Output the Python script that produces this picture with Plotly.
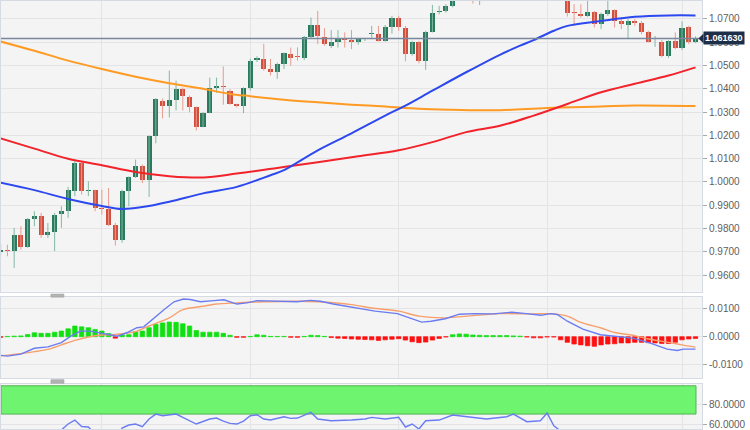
import plotly.graph_objects as go

# ---------------- data (EUR/USD daily) ----------------
opens = [0.9700, 0.9708, 0.9703, 0.9771, 0.9721, 0.9841, 0.9853, 0.9774, 0.9786, 0.9864,
         0.9874, 0.9960, 1.0081, 0.9962, 0.9964, 0.9887, 0.9884, 0.9817, 0.9749, 0.9963,
         1.0020, 1.0068, 1.0010, 1.0196, 1.0346, 1.0328, 1.0354, 1.0397, 1.0363, 1.0320,
         1.0238, 1.0298, 1.0405, 1.0412, 1.0392, 1.0333, 1.0324, 1.0405, 1.0524, 1.0530,
         1.0486, 1.0470, 1.0507, 1.0549, 1.0542, 1.0532, 1.0623, 1.0674, 1.0623, 1.0585,
         1.0603, 1.0613, 1.0609, 1.0599, 1.0608, 1.0634, 1.0637, 1.0606, 1.0666, 1.0706,
         1.0663, 1.0549, 1.0599, 1.0518, 1.0644, 1.0730, 1.0734, 1.0756, 1.0851, 1.0830,
         1.0820, 1.0790, 1.0795, 1.0830, 1.0855, 1.0870, 1.0885, 1.0915, 1.0890, 1.0870,
         1.0848, 1.0862, 1.0990, 1.0910, 1.0790, 1.0729, 1.0723, 1.0713, 1.0730, 1.0677,
         1.0723, 1.0737, 1.0689, 1.0674, 1.0691, 1.0684, 1.0642, 1.0599, 1.0603, 1.0542,
         1.0606, 1.0577, 1.0666, 1.0603]
highs = [0.9735, 0.9731, 0.9803, 0.9810, 0.9846, 0.9874, 0.9867, 0.9824, 0.9867, 0.9896,
         0.9979, 1.0096, 1.0089, 1.0003, 0.9967, 0.9967, 0.9974, 0.9824, 0.9967, 1.0024,
         1.0096, 1.0075, 1.0200, 1.0360, 1.0358, 1.0478, 1.0435, 1.0405, 1.0371, 1.0324,
         1.0301, 1.0448, 1.0448, 1.0496, 1.0399, 1.0336, 1.0406, 1.0529, 1.0540, 1.0593,
         1.0528, 1.0512, 1.0556, 1.0577, 1.0578, 1.0627, 1.0706, 1.0734, 1.0660, 1.0652,
         1.0652, 1.0642, 1.0652, 1.0617, 1.0613, 1.0670, 1.0670, 1.0674, 1.0713, 1.0713,
         1.0670, 1.0606, 1.0606, 1.0649, 1.0760, 1.0756, 1.0763, 1.0870, 1.0868, 1.0845,
         1.0870, 1.0887, 1.0840, 1.0860, 1.0927, 1.0890, 1.0929, 1.0930, 1.0915, 1.0915,
         1.0870, 1.1000, 1.1033, 1.0930, 1.0805, 1.0763, 1.0763, 1.0777, 1.0734, 1.0727,
         1.0777, 1.0741, 1.0706, 1.0699, 1.0699, 1.0691, 1.0649, 1.0627, 1.0609, 1.0609,
         1.0642, 1.0689, 1.0670, 1.0625]
lows = [0.9685, 0.9681, 0.9631, 0.9710, 0.9717, 0.9810, 0.9760, 0.9760, 0.9703, 0.9803,
        0.9846, 0.9939, 0.9946, 0.9939, 0.9874, 0.9860, 0.9810, 0.9727, 0.9739, 0.9896,
        1.0017, 0.9995, 0.9936, 1.0166, 1.0273, 1.0277, 1.0307, 1.0307, 1.0299, 1.0221,
        1.0235, 1.0295, 1.0383, 1.0332, 1.0332, 1.0320, 1.0295, 1.0392, 1.0515, 1.0478,
        1.0457, 1.0443, 1.0485, 1.0499, 1.0521, 1.0523, 1.0617, 1.0592, 1.0585, 1.0575,
        1.0577, 1.0577, 1.0570, 1.0589, 1.0605, 1.0613, 1.0603, 1.0603, 1.0637, 1.0649,
        1.0518, 1.0542, 1.0509, 1.0481, 1.0642, 1.0720, 1.0727, 1.0750, 1.0785, 1.0790,
        1.0766, 1.0760, 1.0785, 1.0800, 1.0840, 1.0835, 1.0860, 1.0860, 1.0835, 1.0840,
        1.0800, 1.0840, 1.0905, 1.0790, 1.0710, 1.0670, 1.0706, 1.0709, 1.0663, 1.0656,
        1.0713, 1.0663, 1.0656, 1.0613, 1.0670, 1.0634, 1.0599, 1.0580, 1.0535, 1.0532,
        1.0570, 1.0566, 1.0592, 1.0596]
closes = [0.9708, 0.9703, 0.9771, 0.9721, 0.9839, 0.9856, 0.9774, 0.9786, 0.9860, 0.9874,
          0.9964, 1.0081, 0.9960, 0.9967, 0.9889, 0.9883, 0.9817, 0.9749, 0.9963, 1.0020,
          1.0070, 1.0008, 1.0196, 1.0357, 1.0328, 1.0350, 1.0397, 1.0367, 1.0320, 1.0238,
          1.0298, 1.0405, 1.0413, 1.0408, 1.0335, 1.0324, 1.0405, 1.0520, 1.0532, 1.0485,
          1.0470, 1.0507, 1.0552, 1.0532, 1.0535, 1.0623, 1.0674, 1.0627, 1.0592, 1.0603,
          1.0613, 1.0609, 1.0599, 1.0613, 1.0610, 1.0640, 1.0606, 1.0666, 1.0706, 1.0666,
          1.0549, 1.0599, 1.0518, 1.0644, 1.0727, 1.0734, 1.0756, 1.0850, 1.0830, 1.0820,
          1.0790, 1.0795, 1.0830, 1.0855, 1.0870, 1.0885, 1.0915, 1.0890, 1.0870, 1.0848,
          1.0862, 1.0990, 1.0910, 1.0795, 1.0727, 1.0726, 1.0713, 1.0730, 1.0677, 1.0720,
          1.0737, 1.0691, 1.0677, 1.0691, 1.0684, 1.0642, 1.0603, 1.0603, 1.0542, 1.0606,
          1.0577, 1.0663, 1.0599, 1.06163]

# first trading day of each month (Nov, Dec, Jan, Feb, Mar) -> vertical grid lines
month_start_idx = [15, 37, 59, 81, 101]

# moving averages (sampled)
ma_blue_idx = [0, 5, 10, 15, 18, 21, 25, 30, 35, 40, 42, 47, 52, 57, 60, 64, 69, 74, 77, 79, 82, 84, 89, 94, 99, 103]
ma_blue_val = [0.9997, 0.9965, 0.9927, 0.9897, 0.9884, 0.9892, 0.9915, 0.9951, 0.9979, 1.0029,
               1.0051, 1.0136, 1.0209, 1.0285, 1.0328, 1.0392, 1.0471, 1.0546, 1.0585, 1.0609,
               1.0649, 1.0670, 1.0691, 1.0709, 1.0715, 1.0715]
ma_red_idx = [0, 5, 10, 15, 20, 25, 30, 35, 41, 47, 53, 59, 64, 69, 74, 79, 84, 89, 94, 99, 103]
ma_red_val = [1.0187, 1.0143, 1.0100, 1.0072, 1.0043, 1.0025, 1.0019, 1.0036, 1.0060, 1.0085,
              1.0110, 1.0136, 1.0171, 1.0214, 1.0241, 1.0285, 1.0335, 1.0385, 1.0422, 1.0457, 1.0492]
ma_orange_idx = [0, 5, 10, 15, 20, 25, 30, 34, 37, 42, 47, 52, 57, 62, 67, 74, 81, 89, 94, 103]
ma_orange_val = [1.0603, 1.0563, 1.0521, 1.0485, 1.0452, 1.0424, 1.0400, 1.0378, 1.0368, 1.0353,
                 1.0342, 1.0332, 1.0324, 1.0314, 1.0310, 1.0308, 1.0318, 1.0324, 1.0328, 1.0326]

# MACD histogram (one per candle)
macd_hist = [-0.0002, 0.0001, 0.0002, 0.0003, 0.0008, 0.0014, 0.0012, 0.0012, 0.0016, 0.0020,
             0.0028, 0.0038, 0.0035, 0.0032, 0.0026, 0.0020, 0.0011, -0.0005, 0.0006, 0.0007,
             0.0018, 0.0020, 0.0032, 0.0044, 0.0049, 0.0052, 0.0051, 0.0046, 0.0038, 0.0022,
             0.0016, 0.0016, 0.0016, 0.0012, 0.0005, -0.0002, -0.0002, 0.0001, 0.0007, 0.0005,
             0.0001, 0.0001, 0.0001, -0.0002, -0.0002, 0.0001, 0.0005, 0.0004, 0.0001, -0.0003,
             -0.0005, -0.0006, -0.0008, -0.0009, -0.0010, -0.0011, -0.0013, -0.0011, -0.0009, -0.0007,
             -0.0012, -0.0018, -0.0021, -0.0019, -0.0012, -0.0006, -0.0001, 0.0007, 0.0010, 0.0009,
             0.0006, 0.0005, 0.0004, 0.0004, 0.0004, 0.0004, 0.0003, 0.0002, -0.0001, -0.0004,
             -0.0004, -0.0001, -0.0001, -0.0011, -0.0020, -0.0026, -0.0029, -0.0032, -0.0034, -0.0029,
             -0.0026, -0.0025, -0.0022, -0.0022, -0.0020, -0.0020, -0.0021, -0.0022, -0.0024, -0.0024,
             -0.0020, -0.0011, -0.0008, -0.0006]
macd_idx = [0, 1, 3, 5, 7, 9, 10.4, 11.8, 13.3, 14.8, 16.3, 17.3, 18.7, 20.2, 21.2, 22.7, 24.2,
            25.7, 27.1, 28.1, 29.6, 31.6, 33.1, 35, 36.5, 38, 40, 41.9, 43.9, 45.9, 47.4, 49.3,
            51.8, 54.3, 55.5, 58.8, 60.9, 62.4, 63.8, 65.9, 68, 70.2, 73, 75.8, 77.9, 80.1, 81.5,
            82.5, 84, 86.3, 88.9, 91.4, 93.7, 96.3, 98.8, 100.3, 101.2, 103]
macd_val = [-0.0066, -0.0069, -0.0062, -0.0041, -0.0036, -0.0021, 0.0002, 0.0020, 0.0020, 0.0014,
            0.0006, 0.0002, 0.0014, 0.0032, 0.0035, 0.0067, 0.0096, 0.0124, 0.0134, 0.0132,
            0.0124, 0.0128, 0.0131, 0.0116, 0.0120, 0.0128, 0.0126, 0.0124, 0.0124, 0.0129,
            0.0126, 0.0116, 0.0105, 0.0096, 0.0091, 0.0082, 0.0064, 0.0052, 0.0055, 0.0064,
            0.0080, 0.0082, 0.0081, 0.0087, 0.0082, 0.0076, 0.0082, 0.0079, 0.0055, 0.0027,
            0.0007, 0.0001, -0.0005, -0.0023, -0.0044, -0.0049, -0.0044, -0.0044]
signal_idx = [0, 3, 5, 7, 9, 11, 13, 15, 17, 20, 22, 25, 27, 30, 32, 35, 39, 44, 47, 52, 55,
              59, 62, 66, 70, 74, 79, 82, 84, 86, 89, 91, 94, 96, 99, 101, 103]
signal_val = [-0.0068, -0.0060, -0.0053, -0.0045, -0.0029, -0.0013, -0.0001, 0.0006, 0.0008,
              0.0018, 0.0038, 0.0067, 0.0096, 0.0108, 0.0116, 0.0120, 0.0124, 0.0126, 0.0124,
              0.0114, 0.0102, 0.0091, 0.0073, 0.0067, 0.0075, 0.0082, 0.0081, 0.0081, 0.0073,
              0.0051, 0.0031, 0.0015, 0.0004, -0.0008, -0.0020, -0.0029, -0.0037]

# RSI (sampled)
rsi_idx = [0, 3, 6, 8, 9, 10, 11, 12, 13, 14, 16, 17, 18, 19, 20, 21, 22, 23, 24, 25, 26, 27,
           29, 31, 32, 33, 34, 35, 36, 37, 38, 39, 40, 42, 43, 44, 45, 46, 47, 49, 52, 54, 55,
           57, 59, 60, 61, 62, 63, 65, 67, 70, 72, 75, 76, 78, 80, 81, 82, 83, 84, 86, 88, 90,
           92, 95, 98, 99, 101, 103]
rsi_val = [45, 44, 50, 52, 54, 60, 64, 57.5, 57, 50, 45, 40, 56, 59, 60, 57.3, 65, 70, 68.3,
           69.5, 70, 66.7, 60, 65, 66, 63, 60.7, 60, 63, 68.3, 69.3, 65, 64, 67.3, 65.7, 66, 69,
           71.7, 65, 63.3, 64, 65, 66.7, 65, 66.7, 57, 60, 55, 63.3, 64, 69, 66.7, 65, 67.3, 70,
           62.3, 63.3, 71, 58.3, 53, 47, 45, 40, 44, 40, 38, 33, 42, 50, 47]
rsi_band = [70, 98.4]

price_ticks = [0.96, 0.97, 0.98, 0.99, 1.00, 1.01, 1.02, 1.03, 1.04, 1.05, 1.06, 1.07]
macd_ticks = [-0.01, 0.0, 0.01]
rsi_ticks = [60, 80]

# ---------------- styling ----------------
UP_BODY, DN_BODY = '#2a7a5e', '#d34e3c'
UP_WICK, DN_WICK = '#82b9a3', '#e99a8f'
GRID = '#e4e4e6'
BORDER = '#d6dae2'
BG = '#f4f4f4'
TICKFONT = dict(family='Liberation Sans, Arial', size=10, color='#606060')
X_RANGE = [0.05, 103.96]

n = len(closes)
idx = list(range(n))

fig = go.Figure()

# wicks
for up, col in ((True, UP_WICK), (False, DN_WICK)):
    wx, wy = [], []
    for i in idx:
        if (closes[i] >= opens[i]) == up:
            wx += [i, i, None]
            wy += [lows[i], highs[i], None]
    fig.add_trace(go.Scatter(x=wx, y=wy, mode='lines', line=dict(color=col, width=1),
                             hoverinfo='skip', showlegend=False, xaxis='x', yaxis='y'))

# bodies
bases = [min(o, c) for o, c in zip(opens, closes)]
heights = [max(abs(c - o), 0.00025) for o, c in zip(opens, closes)]
body_cols = [UP_BODY if c >= o else DN_BODY for o, c in zip(opens, closes)]
fig.add_trace(go.Bar(x=idx, y=heights, base=bases, width=0.76,
                     marker=dict(color=body_cols, line=dict(width=0)),
                     hoverinfo='skip', showlegend=False, xaxis='x', yaxis='y'))

# moving averages
for xs, ys, col in ((ma_orange_idx, ma_orange_val, '#ff9a22'),
                    (ma_red_idx, ma_red_val, '#f2232b'),
                    (ma_blue_idx, ma_blue_val, '#2c48ee')):
    fig.add_trace(go.Scatter(x=xs, y=ys, mode='lines',
                             line=dict(color=col, width=2, shape='spline', smoothing=1.0),
                             hoverinfo='skip', showlegend=False, xaxis='x', yaxis='y'))

# MACD
hist_cols = ['#10e010' if v >= 0 else '#ff1010' for v in macd_hist]
fig.add_trace(go.Bar(x=idx, y=macd_hist, width=0.66,
                     marker=dict(color=hist_cols, line=dict(width=0.7, color=hist_cols)),
                     hoverinfo='skip', showlegend=False, xaxis='x2', yaxis='y2'))
fig.add_trace(go.Scatter(x=signal_idx, y=signal_val, mode='lines',
                         line=dict(color='#f7a06c', width=1.4, shape='spline', smoothing=0.8),
                         hoverinfo='skip', showlegend=False, xaxis='x2', yaxis='y2'))
fig.add_trace(go.Scatter(x=macd_idx, y=macd_val, mode='lines',
                         line=dict(color='#6a7cf2', width=1.4),
                         hoverinfo='skip', showlegend=False, xaxis='x2', yaxis='y2'))

# RSI
fig.add_trace(go.Scatter(x=rsi_idx, y=rsi_val, mode='lines',
                         line=dict(color='#6a7cf2', width=1.4),
                         hoverinfo='skip', showlegend=False, xaxis='x3', yaxis='y3'))


def xaxis(anchor):
    return dict(domain=[0, 1], range=X_RANGE, anchor=anchor, tickvals=month_start_idx,
                showticklabels=False, ticks='', showgrid=True, gridcolor=GRID, gridwidth=1,
                zeroline=False, showline=True, mirror=True, linecolor=BORDER, fixedrange=True)


def yaxis(domain, rng, tv, fmt, anchor):
    return dict(domain=domain, range=rng, side='right', anchor=anchor,
                tickvals=tv, ticktext=[fmt.format(v) for v in tv], ticks='outside', ticklen=4,
                tickcolor='#a8a8a8', tickfont=TICKFONT, showgrid=True, gridcolor=GRID,
                zeroline=False, showline=True, mirror=True, linecolor=BORDER, fixedrange=True,
                ticklabeloverflow='allow')


ya1 = yaxis([1 - 292 / 430, 1], [0.95291, 1.07769], price_ticks, '{:.4f}', 'x')
ya2 = yaxis([1 - 379 / 430, 1 - 297.5 / 430], [-0.01474, 0.01406], macd_ticks, '{:.4f}', 'x2')
ya3 = yaxis([0, 45 / 430], [55, 100], rsi_ticks, '{:.4f}', 'x3')

last = closes[-1]
half = 0.0021
shapes = [
    # current price line
    dict(type='line', xref='paper', yref='y', x0=0, x1=1, y0=last, y1=last,
         line=dict(color='#7a889e', width=1.5), layer='above'),
    # pointer of the price label
    dict(type='path', xref='paper', yref='y',
         path=f'M {698.5 / 702},{last} L {703.5 / 702},{last + half} L {703.5 / 702},{last - half} Z',
         fillcolor='#1d2f48', line=dict(width=0), layer='above'),
    # RSI overbought band
    dict(type='rect', xref='x3', yref='y3', x0=X_RANGE[0], x1=n - 0.93, y0=rsi_band[0], y1=rsi_band[1],
         fillcolor='#6ff46f', line=dict(color='#52b452', width=1), layer='between'),
    # pane handles
    dict(type='rect', xref='paper', yref='paper', x0=50 / 702, x1=63 / 702,
         y0=1 - 297.5 / 430, y1=1 - 294.5 / 430, fillcolor='#b4b4b4', line=dict(color='#9a9a9a', width=0.6)),
    dict(type='rect', xref='paper', yref='paper', x0=50 / 702, x1=63 / 702,
         y0=1 - 384 / 430, y1=1 - 380.5 / 430, fillcolor='#b4b4b4', line=dict(color='#9a9a9a', width=0.6)),
]

annotations = [
    dict(xref='paper', yref='y', x=703 / 702, y=last, xanchor='left', yanchor='middle',
         text=f'<b>{last:.6f}</b>', showarrow=False, bgcolor='#1d2f48', borderpad=1,
         font=dict(family='Liberation Sans, Arial', size=9, color='#ffffff')),
]

fig.update_layout(
    width=750, height=430,
    margin=dict(l=0, r=48, t=0, b=0, pad=0),
    paper_bgcolor='#ffffff', plot_bgcolor=BG,
    showlegend=False, barmode='overlay', bargap=0,
    xaxis=xaxis('y'), xaxis2=xaxis('y2'), xaxis3=xaxis('y3'),
    yaxis=ya1, yaxis2=ya2, yaxis3=ya3,
    shapes=shapes, annotations=annotations,
    hovermode=False,
)

fig.write_html('out.html', config={'displayModeBar': False, 'staticPlot': True},
               post_script="document.body.style.margin='0px';document.body.style.overflow='hidden';")
